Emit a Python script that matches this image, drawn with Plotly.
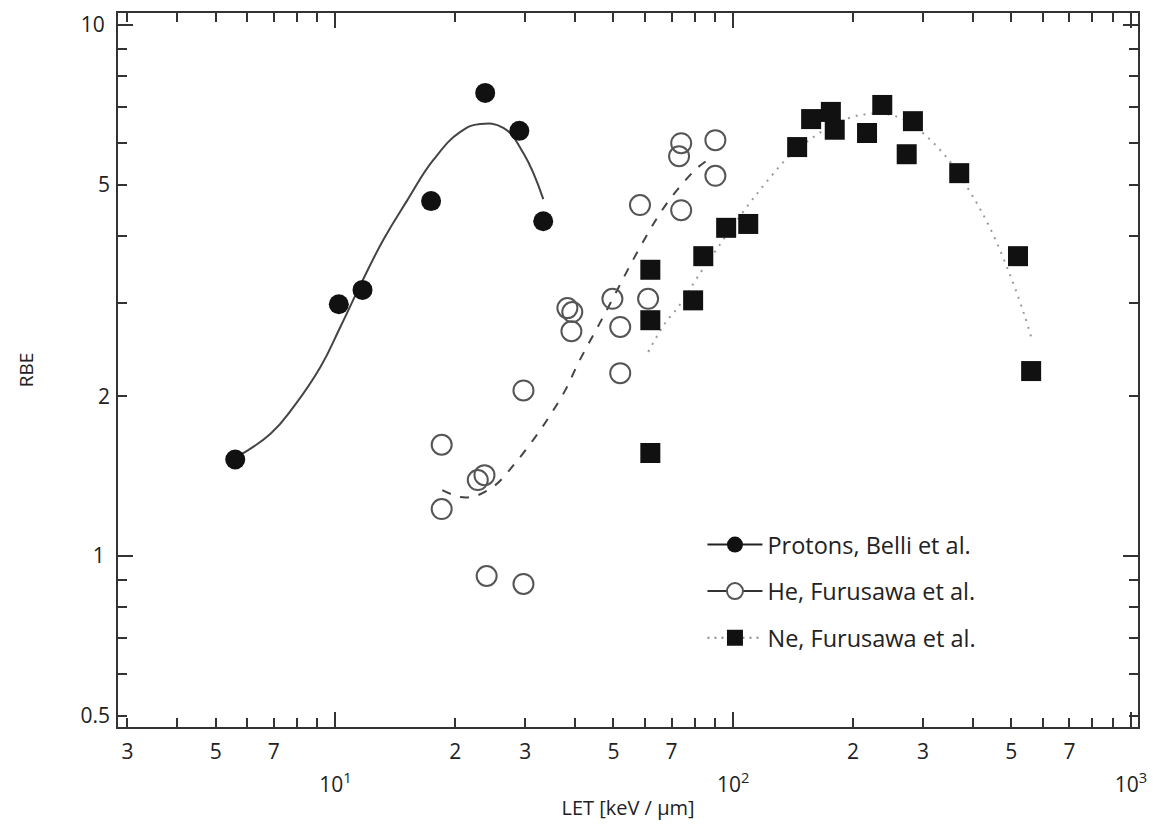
import plotly.graph_objects as go

# ---- data ----
proton_let = [5.6, 10.2, 11.7, 17.4, 23.8, 29.0, 33.3]
proton_rbe = [1.52, 2.98, 3.17, 4.66, 7.45, 6.32, 4.27]

proton_fit_let = [5.6, 6.87, 7.85, 9.17, 10.29, 11.56, 13.20, 15.17, 17.63, 20.61, 23.13, 26.43, 29.68, 33.31]
proton_fit_rbe = [1.53, 1.70, 1.91, 2.27, 2.70, 3.24, 3.94, 4.68, 5.57, 6.29, 6.51, 6.40, 5.74, 4.70]

he_let = [18.5, 18.5, 22.8, 23.7, 24.0, 29.7, 29.7, 38.3, 39.4, 39.2, 49.7, 52.0, 52.0,
          58.3, 61.1, 74.0, 73.1, 74.0, 90.2, 90.2]
he_rbe = [1.62, 1.226, 1.39, 1.42, 0.917, 0.886, 2.05, 2.93, 2.88, 2.65, 3.05, 2.70, 2.21,
          4.58, 3.05, 5.99, 5.66, 4.48, 6.07, 5.20]

he_fit_let = [18.57, 20.61, 22.48, 25.24, 28.34, 31.80, 34.69, 37.84, 40.79, 44.22, 47.69,
              51.42, 55.12, 60.11, 65.56, 72.33, 81.20, 88.56]
he_fit_rbe = [1.331, 1.291, 1.297, 1.360, 1.497, 1.675, 1.843, 2.053, 2.309, 2.585, 2.869,
              3.197, 3.532, 3.971, 4.426, 4.891, 5.38, 5.64]

ne_let = [61.9, 61.9, 61.9, 79.3, 84.1, 96.0, 109.1, 144.8, 157, 176, 180, 217, 237, 283, 273, 370, 520, 561]
ne_rbe = [1.563, 3.46, 2.78, 3.03, 3.67, 4.15, 4.22, 5.89, 6.65, 6.86, 6.35, 6.26, 7.07, 6.59, 5.71, 5.26, 3.67, 2.23]

ne_fit_let = [61.14, 67.46, 72.74, 82.62, 91.69, 109.06, 122.4, 137.5, 157.9, 180.4, 208.5,
              240.9, 270.4, 303.6, 344.9, 394.0, 442.2, 496.6, 538.5, 564.0]
ne_fit_rbe = [2.423, 2.747, 2.944, 3.411, 3.818, 4.581, 5.107, 5.641, 6.127, 6.509, 6.768,
              6.798, 6.624, 6.207, 5.617, 4.849, 4.147, 3.382, 2.856, 2.551]

# ticks
x_decades = [10, 100, 1000]
x_decade_text = ["<br>10<sup>1</sup>", "<br>10<sup>2</sup>", "<br>10<sup>3</sup>"]
x_labeled = [3, 5, 7, 20, 30, 50, 70, 200, 300, 500, 700]
x_labeled_text = ["3", "5", "7", "2", "3", "5", "7", "2", "3", "5", "7"]
x_minor = [3, 4, 5, 6, 7, 8, 9, 20, 30, 40, 50, 60, 70, 80, 90, 200, 300, 400, 500, 600, 700, 800, 900]

y_decades = [1, 10]
y_decade_text = ["1", "10"]
y_labeled = [0.5, 2, 5]
y_labeled_text = ["0.5", "2", "5"]
y_minor = [0.5, 0.6, 0.7, 0.8, 0.9, 2, 3, 4, 5, 6, 7, 8, 9]

names = ["Protons, Belli et al.", "He, Furusawa et al.", "Ne, Furusawa et al."]

FONT = "Open Sans"
AX = "#333333"
TXT = "#222222"
XR = [0.4535, 3.0176]
YR = [-0.322, 1.0226]

fig = go.Figure()

# fitted curves
fig.add_trace(go.Scatter(x=proton_fit_let, y=proton_fit_rbe, mode="lines", showlegend=False, hoverinfo="skip",
                         line=dict(color="#444444", width=2, shape="spline", smoothing=1.3)))
fig.add_trace(go.Scatter(x=he_fit_let, y=he_fit_rbe, mode="lines", showlegend=False, hoverinfo="skip",
                         line=dict(color="#444444", width=2, dash="9px,10px", shape="spline")))
fig.add_trace(go.Scatter(x=ne_fit_let, y=ne_fit_rbe, mode="lines", showlegend=False, hoverinfo="skip",
                         line=dict(color="#9a9a9a", width=2, dash="2px,6px", shape="spline")))

# data points
p_marker = dict(symbol="circle", size=20, color="#111111", line=dict(width=0))
h_marker = dict(symbol="circle-open", size=20, color="#555555", line=dict(width=2, color="#555555"))
h_marker_legend = dict(symbol="circle", size=20, color="white", line=dict(width=2, color="#555555"))
n_marker = dict(symbol="square", size=20, color="#111111", line=dict(width=0))
fig.add_trace(go.Scatter(x=proton_let, y=proton_rbe, mode="markers", showlegend=False, marker=p_marker))
fig.add_trace(go.Scatter(x=he_let, y=he_rbe, mode="markers", showlegend=False, marker=h_marker))
fig.add_trace(go.Scatter(x=ne_let, y=ne_rbe, mode="markers", showlegend=False, marker=n_marker))

# legend-only entries (line + marker symbol)
fig.add_trace(go.Scatter(x=[None], y=[None], mode="lines+markers", name=names[0], marker=p_marker,
                         legendgroup="p", line=dict(color="#222222", width=2)))
fig.add_trace(go.Scatter(x=[None], y=[None], mode="lines+markers", name=names[1], marker=h_marker_legend,
                         legendgroup="h", line=dict(color="#333333", width=2)))
fig.add_trace(go.Scatter(x=[None], y=[None], mode="lines+markers", name=names[2], marker=n_marker,
                         legendgroup="n", line=dict(color="#888888", width=2, dash="2px,5px")))

# empty trace so the overlaid label axes are drawn
fig.add_trace(go.Scatter(x=[None], y=[None], xaxis="x2", yaxis="y2", showlegend=False, hoverinfo="skip"))

tickfont = dict(family=FONT, size=21, color=TXT)
base = dict(type="log", showgrid=False, zeroline=False, automargin=False, fixedrange=True)

fig.update_layout(
    width=1155, height=829,
    margin=dict(l=118, r=17, t=13, b=102),
    plot_bgcolor="white", paper_bgcolor="white",
    font=dict(family=FONT, color=TXT),
    xaxis=dict(**base, range=XR, showline=True, linecolor=AX, linewidth=2, mirror="allticks",
               ticks="inside", tickcolor=AX, tickwidth=2, ticklen=15,
               tickmode="array", tickvals=x_decades, ticktext=x_decade_text, tickfont=tickfont,
               ticklabelstandoff=10,
               minor=dict(tickmode="array", tickvals=x_minor, ticks="inside", ticklen=9, tickwidth=2, tickcolor=AX),
               title=dict(text="LET [keV / μm]", font=dict(family=FONT, size=20, color=TXT), standoff=4)),
    xaxis2=dict(**base, range=XR, overlaying="x", anchor="y", side="bottom", showline=False, ticks="",
                tickmode="array", tickvals=x_labeled, ticktext=x_labeled_text, tickfont=tickfont,
                ticklabelstandoff=10),
    yaxis=dict(**base, range=YR, showline=True, linecolor=AX, linewidth=2, mirror="allticks",
               ticks="inside", tickcolor=AX, tickwidth=2, ticklen=15,
               tickmode="array", tickvals=y_decades, ticktext=y_decade_text, tickfont=tickfont,
               ticklabelstandoff=7,
               minor=dict(tickmode="array", tickvals=y_minor, ticks="inside", ticklen=9, tickwidth=2, tickcolor=AX),
               title=dict(text="RBE", font=dict(family=FONT, size=19, color=TXT), standoff=42)),
    yaxis2=dict(**base, range=YR, overlaying="y", anchor="x", side="left", showline=False, ticks="",
                tickmode="array", tickvals=y_labeled, ticktext=y_labeled_text, tickfont=tickfont,
                ticklabelstandoff=7),
    legend=dict(x=0.573, y=0.286, xanchor="left", yanchor="top", bgcolor="rgba(0,0,0,0)",
                font=dict(family=FONT, size=23.5, color=TXT), tracegroupgap=13, itemwidth=55),
)

fig.write_html("out.html", config={"displayModeBar": False},
               post_script="document.body.style.margin='0px';")
